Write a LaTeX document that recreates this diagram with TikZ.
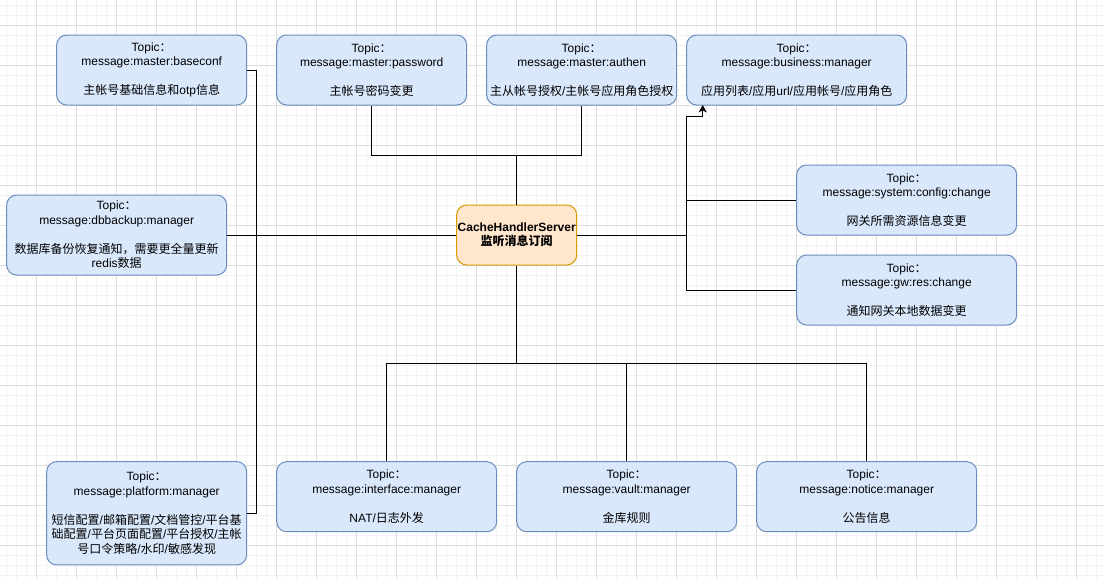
\documentclass[tikz,border=0pt]{standalone}
\usepackage{fontspec}
\setmainfont{Liberation Sans}
\newfontfamily\cjk{Noto Sans CJK SC}
\usetikzlibrary{arrows.meta}

\definecolor{topicfill}{HTML}{DAE8FC}
\definecolor{topicdraw}{HTML}{6C8EBF}
\definecolor{hubfill}{HTML}{FFE6CC}
\definecolor{hubdraw}{HTML}{D79B00}
\definecolor{gridmajor}{HTML}{DEDEDE}
\definecolor{gridminor}{HTML}{F3F3F3}

% Chinese runs inside mixed-script labels
\newcommand\zh[1]{{\cjk #1}}

\begin{document}
\begin{tikzpicture}[x=0.75pt,y=-0.75pt,
  topic/.style={draw=topicdraw, fill=topicfill, line width=0.75pt,
    rounded corners=7.5pt, inner sep=0pt, align=center,
    minimum width=165pt, minimum height=52.5pt,
    font=\fontsize{9}{10.9}\selectfont},
  narrow/.style={minimum width=142.5pt},
  hub/.style={draw=hubdraw, fill=hubfill, line width=0.75pt,
    rounded corners=7.5pt, inner sep=0pt, align=center,
    minimum width=90pt, minimum height=45pt,
    font=\fontsize{9}{10.9}\selectfont\bfseries},
  link/.style={draw=black, line width=0.75pt},
  gap/.style={}]

% canvas and background grid
\useasboundingbox (0,0) rectangle (1104,579);
\fill[white] (0,0) rectangle (1104,579);
\foreach \i in {0,...,109} \draw[gridminor, line width=0.75pt] (6.7+10*\i,0) -- (6.7+10*\i,579);
\foreach \i in {0,...,57} \draw[gridminor, line width=0.75pt] (0,5+10*\i) -- (1104,5+10*\i);
\foreach \i in {0,...,26} \draw[gridmajor, line width=0.75pt] (36.7+40*\i,0) -- (36.7+40*\i,579);
\foreach \i in {0,...,13} \draw[gridmajor, line width=0.75pt] (0,25+40*\i) -- (1104,25+40*\i);

% topic boxes, top row
\node[topic, narrow] (baseconf) at (151.7,70)
  {Topic\zh{：}\\message:master:baseconf\\[10.9pt]\zh{主帐号基础信息和}otp\zh{信息}};
\node[topic, narrow] (password) at (371.7,70)
  {Topic\zh{：}\\message:master:password\\[10.9pt]\zh{主帐号密码变更}};
\node[topic, narrow] (authen) at (581.7,70)
  {Topic\zh{：}\\message:master:authen\\[10.9pt]\zh{主从帐号授权}/\zh{主帐号应用角色授权}};
\node[topic] (business) at (796.7,70)
  {Topic\zh{：}\\message:business:manager\\[10.9pt]\zh{应用列表}/\zh{应用}url/\zh{应用帐号}/\zh{应用角色}};

% left and right
\node[topic, minimum height=60pt] (dbbackup) at (116.7,235)
  {Topic\zh{：}\\message:dbbackup:manager\\[10.9pt]\zh{数据库备份恢复通知，需要更全量更新}\\redis\zh{数据}};
\node[topic] (sysconf) at (906.7,200)
  {Topic\zh{：}\\message:system:config:change\\[10.9pt]\zh{网关所需资源信息变更}};
\node[topic] (gwres) at (906.7,290)
  {Topic\zh{：}\\message:gw:res:change\\[10.9pt]\zh{通知网关本地数据变更}};

% central subscriber
\node[hub] (hub) at (516.7,235)
  {CacheHandlerServer\\\zh{监听消息订阅}};

% bottom row
\node[topic, minimum width=150pt, minimum height=77.5pt] (platform) at (146.7,513.3)
  {Topic\zh{：}\\message:platform:manager\\[10.9pt]\zh{短信配置}/\zh{邮箱配置}/\zh{文档管控}/\zh{平台基}\\\zh{础配置}/\zh{平台页面配置}/\zh{平台授权}/\zh{主帐}\\\zh{号口令策略}/\zh{水印}/\zh{敏感发现}};
\node[topic] (iface) at (386.7,496.7)
  {Topic\zh{：}\\message:interface:manager\\[10.9pt]NAT/\zh{日志外发}};
\node[topic] (vault) at (626.7,496.7)
  {Topic\zh{：}\\message:vault:manager\\[10.9pt]\zh{金库规则}};
\node[topic] (notice) at (866.7,496.7)
  {Topic\zh{：}\\message:notice:manager\\[10.9pt]\zh{公告信息}};

% junction points
\coordinate (topj) at (516.7,155);
\coordinate (botj) at (516.7,363);
\coordinate (rbus) at (686.7,235);
\coordinate (lbus) at (256.7,300);
\coordinate (bizbend) at (686.7,116);
\coordinate (bizin) at (702.7,105);

% connectors
\draw[link] (hub.north) -- (topj);
\draw[link] (topj) -| (password.south);
\draw[link] (topj) -| (authen.south);

\draw[link] (hub.west) -- (dbbackup.east);
\draw[link] (baseconf.east) -| (lbus) |- (platform.east);

\draw[link] (hub.east) -- (rbus);
\draw[link] (rbus) |- (sysconf.west);
\draw[link] (rbus) |- (gwres.west);
\draw[link, -{Stealth[length=5.5pt, width=6pt, inset=1.5pt]}]
  (rbus) -- (bizbend) -| (bizin);

\draw[link] (hub.south) -- (botj);
\draw[link] (botj) -| (iface.north);
\draw[link] (botj) -| (vault.north);
\draw[link] (botj) -| (notice.north);
\end{tikzpicture}
\end{document}
